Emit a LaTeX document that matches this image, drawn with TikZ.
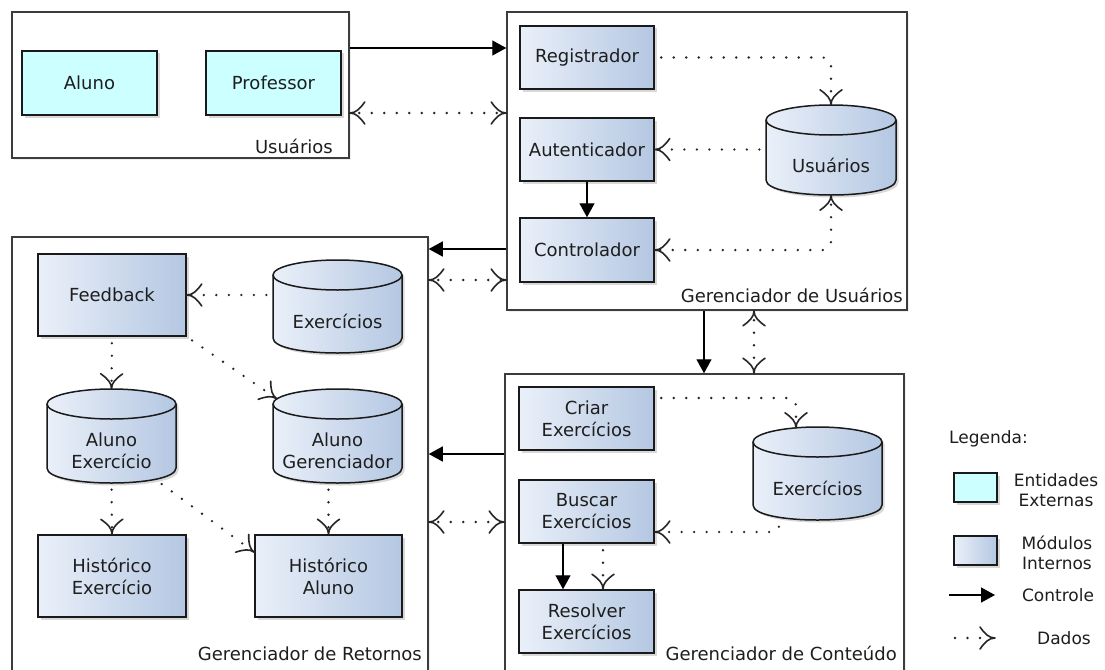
\documentclass[tikz,border=0pt]{standalone}
\usepackage{fontspec}
\setmainfont{DejaVu Sans}
\usetikzlibrary{arrows.meta,shadows}
\definecolor{extfill}{HTML}{CCFFFF}
\definecolor{modA}{HTML}{EAF0F9}
\definecolor{modB}{HTML}{B4C7E2}
\definecolor{edgec}{HTML}{1A1A1A}
\definecolor{txt}{HTML}{1E1E1E}
\pgfdeclarearrow{
  name = YBarb,
  parameters = {},
  setup code = {
    \pgfarrowssettipend{0pt}
    \pgfarrowssetbackend{-15pt}
    \pgfarrowssetlineend{-3pt}
    \pgfarrowsupperhullpoint{-15pt}{11pt}
    \pgfarrowsupperhullpoint{0pt}{0pt}
  },
  drawing code = {
    \pgfsetdash{}{0pt}
    \pgfsetlinewidth{1.6pt}
    \pgfsetroundcap
    \pgfsetroundjoin
    \pgfpathmoveto{\pgfqpoint{-15pt}{11pt}}
    \pgfpathcurveto{\pgfqpoint{-10pt}{4pt}}{\pgfqpoint{-6pt}{0pt}}{\pgfqpoint{0pt}{0pt}}
    \pgfpathcurveto{\pgfqpoint{-6pt}{0pt}}{\pgfqpoint{-10pt}{-4pt}}{\pgfqpoint{-15pt}{-11pt}}
    \pgfusepathqstroke
  },
  defaults = {}
}
\tikzset{
  ctip/.tip={Triangle[length=14pt,width=15pt]},
  dtip/.tip={YBarb},
  grp/.style={draw=edgec!85, line width=1.5pt, fill=white,
    drop shadow={shadow xshift=2pt,shadow yshift=-2pt,opacity=.12}},
  modbox/.style={draw=edgec, line width=1.5pt, left color=modA, right color=modB,
    align=center, inner sep=0pt,
    drop shadow={shadow xshift=2.5pt,shadow yshift=-2.5pt,opacity=.3}},
  extbox/.style={draw=edgec, line width=1.5pt, fill=extfill, align=center, inner sep=0pt,
    drop shadow={shadow xshift=2.5pt,shadow yshift=-2.5pt,opacity=.3}},
  cylfill/.style={left color=modA, right color=modB,
    drop shadow={shadow xshift=2.5pt,shadow yshift=-2.5pt,opacity=.3}},
  cylline/.style={draw=edgec, line width=1.5pt},
  cyltext/.style={align=center, inner sep=0pt},
  grplabel/.style={anchor=base east, inner sep=0pt},
  legtext/.style={align=center, inner sep=0pt, font=\fontsize{17}{20}\selectfont},
  ctrl/.style={draw=black, line width=1.4pt, -ctip},
  data/.style={draw=black!85, line width=2.6pt, line cap=round,
    dash pattern=on 0pt off 12.5pt, dash phase=6pt, -dtip},
  databoth/.style={data, dtip-dtip},
}
\newcommand{\modnode}[7]{%
  \node[#7, minimum width={#4-#2}, minimum height={#5-#3}] (#1) at ({(#2+#4)/2},{(#3+#5)/2}) {#6};}
\newcommand{\dbcyl}[6]{%
  \path[cylfill] (#2,#3+15) -- (#2,#5-15) .. controls (#2,#5+5) and (#4,#5+5) .. (#4,#5-15)
     -- (#4,#3+15) .. controls (#4,#3-5) and (#2,#3-5) .. (#2,#3+15) -- cycle;
  \draw[cylline] (#2,#3+15) -- (#2,#5-15) .. controls (#2,#5+5) and (#4,#5+5) .. (#4,#5-15) -- (#4,#3+15);
  \draw[cylline] ({(#2+#4)/2},#3+15) ellipse [x radius={(#4-#2)/2}, y radius=15];
  \node[inner sep=0pt, minimum width={#4-#2}, minimum height={#5-#3}] (#1) at ({(#2+#4)/2},{(#3+#5)/2}) {};
  \node[cyltext] (#1-t) at ({(#2+#4)/2},{(#3+30+#5)/2}) {#6};}
\begin{document}
\begin{tikzpicture}[x=1pt,y=-1pt,font=\fontsize{18}{22}\selectfont,text=txt]
\useasboundingbox (0,0) rectangle (1105,669);
\fill[white] (0,0) rectangle (1105,669);
\clip (0,0) rectangle (1105,669);

% ---------- groups ----------
\modnode{ug}{12}{12}{349}{158}{}{grp}
\modnode{gu}{507}{12}{907}{310}{}{grp}
\modnode{gr}{12}{237}{428}{672}{}{grp}
\modnode{gc}{505}{374}{904}{672}{}{grp}
\node[grplabel] (ugl) at (333,153) {Usuários};
\node[grplabel] (gul) at (903,302) {Gerenciador de Usuários};
\node[grplabel] (grl) at (422,660) {Gerenciador de Retornos};
\node[grplabel] (gcl) at (897,660) {Gerenciador de Conteúdo};

% ---------- Usuários ----------
\modnode{alu}{22}{51}{157}{115}{Aluno}{extbox}
\modnode{prof}{206}{51}{341}{115}{Professor}{extbox}

% ---------- Gerenciador de Usuários ----------
\modnode{reg}{520}{26}{654}{89}{Registrador}{modbox}
\modnode{aut}{520}{118}{654}{181}{Autenticador}{modbox}
\modnode{ctl}{520}{218}{654}{282}{Controlador}{modbox}
\dbcyl{usr}{766}{105}{896}{195}{Usuários}

% ---------- Gerenciador de Retornos ----------
\modnode{fb}{38}{254}{186}{336}{Feedback}{modbox}
\dbcyl{exr}{273}{260}{402}{353}{Exercícios}
\dbcyl{ae}{47}{389}{176}{483}{Aluno\\Exercício}
\dbcyl{ag}{273}{389}{402}{483}{Aluno\\Gerenciador}
\modnode{hx}{38}{535}{186}{617}{Histórico\\Exercício}{modbox}
\modnode{ha}{255}{535}{402}{617}{Histórico\\Aluno}{modbox}

% ---------- Gerenciador de Conteúdo ----------
\modnode{cri}{519}{387}{654}{450}{Criar\\Exercícios}{modbox}
\modnode{bus}{519}{480}{654}{543}{Buscar\\Exercícios}{modbox}
\modnode{res}{519}{590}{654}{653}{Resolver\\Exercícios}{modbox}
\dbcyl{exc}{753}{427}{882}{520}{Exercícios}

% ---------- helper levels ----------
\coordinate (yA) at (0,48);
\coordinate (yB) at (0,113);
\coordinate (yC) at (0,249);
\coordinate (yD) at (0,280);
\coordinate (yE) at (0,454);
\coordinate (yF) at (0,522);
\coordinate (xG) at (704,0);
\coordinate (xH) at (754,0);

% ---------- connectors between groups ----------
\draw[ctrl] (ug.east |- yA) -- (gu.west |- yA);
\draw[databoth] (ug.east |- yB) -- (gu.west |- yB);
\draw[ctrl] (gu.west |- yC) -- (gr.east |- yC);
\draw[databoth] (gr.east |- yD) -- (gu.west |- yD);
\draw[ctrl] (gu.south -| xG) -- (gc.north -| xG);
\draw[databoth] (gu.south -| xH) -- (gc.north -| xH);
\draw[ctrl] (gc.west |- yE) -- (gr.east |- yE);
\draw[databoth] (gr.east |- yF) -- (gc.west |- yF);

% ---------- inside Gerenciador de Usuários ----------
\draw[data, rounded corners=8pt] (reg.east) -| (usr.north);
\draw[data] (usr.west |- aut.east) -- (aut.east);
\draw[databoth, rounded corners=8pt] (usr.south) |- (ctl.east);
\draw[ctrl] (aut.south) -- (ctl.north);

% ---------- inside Gerenciador de Retornos ----------
\draw[data] (exr.west |- fb.east) -- (fb.east);
\draw[data] (fb.south) -- (ae.north);
\draw[data] (fb.south east) -- ([shift={(4,10)}]ag.north west);
\draw[data] (ae.south) -- (hx.north);
\draw[data] ([shift={(45,-3)}]ae.south) -- ([shift={(0,18)}]ha.north west);
\draw[data] (ha.north |- ag.south) -- (ha.north);

% ---------- inside Gerenciador de Conteúdo ----------
\draw[data, rounded corners=8pt] ([shift={(0,-20.5)}]cri.east) -| ([shift={(-21.5,1)}]exc.north);
\draw[data, rounded corners=6pt] ([shift={(-38.5,0)}]exc.south) |- ([shift={(0,20.5)}]bus.east);
\draw[ctrl] ([shift={(-23.5,0)}]bus.south) -- ([shift={(-23.5,0)}]res.north);
\draw[data] ([shift={(16.5,0)}]bus.south) -- ([shift={(16.5,0)}]res.north);

% ---------- legend ----------
\node[legtext, anchor=base west] (leg) at (949,443) {Legenda:};
\modnode{lext}{954}{473}{997}{502}{}{extbox}
\node[legtext] (lextt) at (1056,490) {Entidades\\Externas};
\modnode{lint}{954}{536}{997}{565}{}{modbox}
\node[legtext] (lintt) at (1057,553) {Módulos\\Internos};
\coordinate (lc1) at (949,595);
\coordinate (lc2) at (995,595);
\draw[ctrl] (lc1) -- (lc2);
\node[legtext] (lctt) at (1058,595) {Controle};
\coordinate (ld1) at (955,638);
\coordinate (ld2) at (995,638);
\draw[data, dash phase=0pt] (ld1) -- (ld2);
\node[legtext] (ldt) at (1064,638) {Dados};
\end{tikzpicture}
\end{document}
